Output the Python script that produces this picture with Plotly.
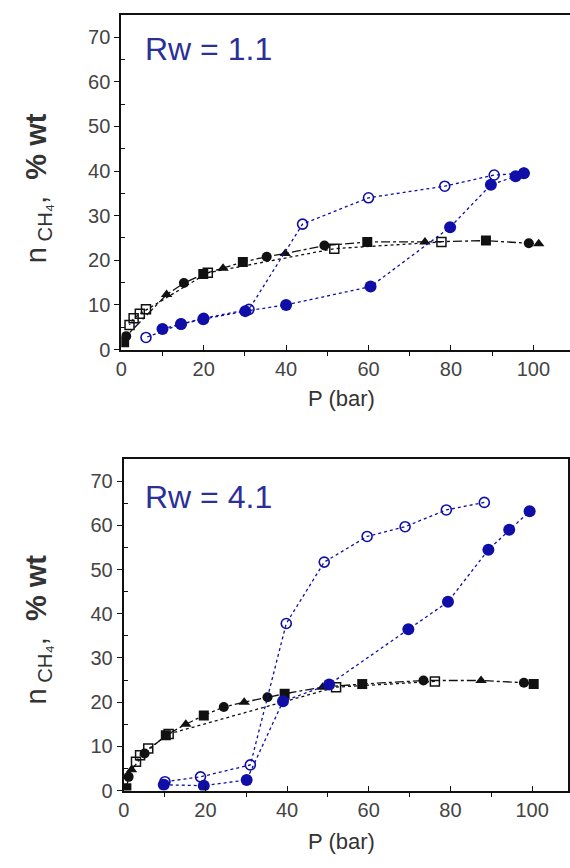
import plotly.graph_objects as go

# ---------------- data ----------------
# Panel A: Rw = 1.1
a_black_fill_p = [0.7, 1.2, 11, 15.2, 19.9, 24.7, 29.5, 35.3, 39.8, 49.3, 59.7, 73.7, 88.5, 98.9, 101.3]
a_black_fill_n = [1.6, 3.0, 12.3, 14.9, 16.9, 18.2, 19.6, 20.8, 21.5, 23.3, 24.1, 24.1, 24.4, 23.8, 23.7]
a_black_open_p = [77.7, 51.7, 21.0, 6.0, 4.5, 3.0, 2.0]
a_black_open_n = [24.1, 22.6, 17.2, 9.0, 8.0, 7.0, 5.5]
a_blue_fill_p = [10, 14.5, 19.9, 30.1, 40, 60.5, 79.8, 89.7, 95.7, 97.7]
a_blue_fill_n = [4.6, 5.7, 6.8, 8.6, 10.0, 14.1, 27.4, 36.9, 38.8, 39.5]
a_blue_open_p = [97.7, 90.5, 78.5, 60, 44, 31, 20, 14.5, 6]
a_blue_open_n = [39.5, 39.1, 36.6, 34.0, 28.1, 9.0, 7.0, 5.7, 2.7]

# Panel B: Rw = 4.1
b_black_fill_p = [0.65, 1.2, 1.9, 5.1, 10.3, 15.2, 19.6, 24.5, 29.5, 35.2, 39.4, 48.7, 58.4, 73.4, 87.5, 98, 100.4]
b_black_fill_n = [0.5, 3.1, 4.7, 8.4, 12.5, 15.0, 17.0, 18.9, 20.0, 21.1, 21.9, 23.4, 24.1, 24.9, 24.9, 24.4, 24.1]
b_black_open_p = [76.2, 52, 11, 6, 4, 3]
b_black_open_n = [24.7, 23.4, 12.8, 9.5, 8.0, 6.5]
b_blue_fill_p = [9.8, 19.6, 30.1, 39, 50.3, 69.7, 79.4, 89.3, 94.4, 99.4]
b_blue_fill_n = [1.3, 1.1, 2.4, 20.2, 24.0, 36.5, 42.7, 54.5, 59.0, 63.2]
b_blue_open_p = [88.3, 79, 68.9, 59.6, 49.1, 39.8, 31, 18.8, 10.1]
b_blue_open_n = [65.2, 63.5, 59.7, 57.5, 51.7, 37.8, 5.8, 3.1, 2.0]

panel_labels = ["Rw = 1.1", "Rw = 4.1"]
x_ticks = [0, 20, 40, 60, 80, 100]
y_ticks = [0, 10, 20, 30, 40, 50, 60, 70]

# ---------------- style ----------------
BLUE = "#0f0fa8"
BLACK = "#111111"
FONT = "Liberation Sans, Arial, sans-serif"
TICKC = "#444444"

fig = go.Figure()

def black_syms(n):
    cyc = ["square", "circle", "triangle-up", "circle", "square", "triangle-up"]
    return [cyc[i % len(cyc)] for i in range(n)]

def add_panel(xa, ya, bfp, bfn, bop, bon, ufp, ufn, uop, uon):
    fig.add_trace(go.Scatter(x=bop, y=bon, xaxis=xa, yaxis=ya, mode="lines+markers",
                             line=dict(color=BLACK, width=1.3, dash="dot"),
                             marker=dict(symbol="square-open", size=9, color=BLACK, line=dict(width=1.5)),
                             showlegend=False))
    fig.add_trace(go.Scatter(x=bfp, y=bfn, xaxis=xa, yaxis=ya, mode="lines+markers",
                             line=dict(color=BLACK, width=1.3, dash="dashdot"),
                             marker=dict(symbol=black_syms(len(bfp)), size=10, color=BLACK),
                             showlegend=False))
    fig.add_trace(go.Scatter(x=uop, y=uon, xaxis=xa, yaxis=ya, mode="lines+markers",
                             line=dict(color=BLUE, width=1.3, dash="dot"),
                             marker=dict(symbol="circle-open", size=10, color=BLUE, line=dict(width=1.6)),
                             showlegend=False))
    fig.add_trace(go.Scatter(x=ufp, y=ufn, xaxis=xa, yaxis=ya, mode="lines+markers",
                             line=dict(color=BLUE, width=1.3, dash="dot"),
                             marker=dict(symbol="circle", size=12, color=BLUE),
                             showlegend=False))

add_panel("x", "y", a_black_fill_p, a_black_fill_n, a_black_open_p, a_black_open_n,
          a_blue_fill_p, a_blue_fill_n, a_blue_open_p, a_blue_open_n)
add_panel("x2", "y2", b_black_fill_p, b_black_fill_n, b_black_open_p, b_black_open_n,
          b_blue_fill_p, b_blue_fill_n, b_blue_open_p, b_blue_open_n)

H = 868.0
W = 570.0

def xaxis_cfg(left_px, right_px, rng, anchor, mirror):
    return dict(domain=[left_px / W, right_px / W], range=rng, anchor=anchor,
                showline=True, linecolor=BLACK, linewidth=2, mirror=mirror,
                showgrid=False, zeroline=False,
                tickvals=x_ticks, ticks="inside", ticklen=5, tickcolor=BLACK,
                minor=dict(tickvals=[10, 30, 50, 70, 90], ticks="outside", ticklen=4, tickcolor=BLACK),
                tickfont=dict(family=FONT, size=20, color=TICKC))

def yaxis_cfg(top_px, bot_px, anchor, mirror):
    return dict(domain=[(H - bot_px) / H, (H - top_px) / H], range=[0, 75], anchor=anchor,
                showline=True, linecolor=BLACK, linewidth=2, mirror=mirror,
                showgrid=False, zeroline=False,
                tickvals=y_ticks, ticks="outside", ticklen=5, tickcolor=BLACK,
                minor=dict(tickvals=[5, 15, 25, 35, 45, 55, 65], ticks="inside", ticklen=4, tickcolor=BLACK),
                tickfont=dict(family=FONT, size=20, color=TICKC))

fig.update_layout(
    width=570, height=868,
    margin=dict(l=0, r=0, t=0, b=0),
    paper_bgcolor="white", plot_bgcolor="white",
    xaxis=xaxis_cfg(116.5, 570, [0, 108.9], "y", True),
    yaxis=yaxis_cfg(15, 354, "x", False),
    xaxis2=xaxis_cfg(119, 568, [0, 108.8], "y2", True),
    yaxis2=yaxis_cfg(465, 800.7, "x2", True),
)

annotations = []
for label, (ax, ay) in zip(panel_labels, [(138, 50), (138, 503)]):
    annotations.append(dict(text=label, x=ax / W, y=1 - ay / H, xref="paper", yref="paper",
                            xanchor="left", yanchor="middle", showarrow=False,
                            font=dict(family=FONT, size=32, color="#2b2f98")))
for ty in [404, 852]:
    annotations.append(dict(text="P (bar)", x=339 / W, y=1 - ty / H, xref="paper", yref="paper",
                            xanchor="center", yanchor="middle", showarrow=False,
                            font=dict(family=FONT, size=22, color="#333333")))
for ty in [191, 638]:
    annotations.append(dict(text="n<sub> CH₄</sub>,  <b>% wt</b>", x=32 / W, y=1 - ty / H,
                            xref="paper", yref="paper", textangle=-90,
                            xanchor="center", yanchor="middle", showarrow=False,
                            font=dict(family=FONT, size=29, color="#333333")))
fig.update_layout(annotations=annotations)

fig.write_html("out.html")
